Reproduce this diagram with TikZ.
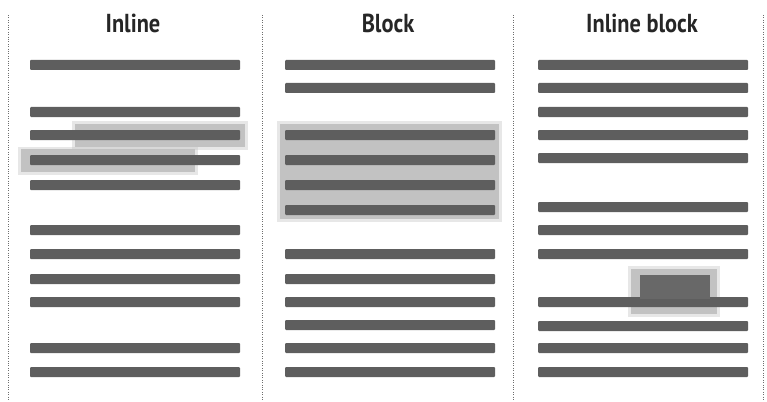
\documentclass[tikz,border=0pt]{standalone}
\usepackage{fontspec}
\setmainfont{PT Sans}
\definecolor{linegray}{HTML}{5E5E5E}
\definecolor{hlgray}{HTML}{C2C2C2}
\definecolor{boxdark}{HTML}{686868}
\definecolor{sepgray}{HTML}{6E6E6E}
\begin{document}
\begin{tikzpicture}[x=1pt,y=-1pt,
  txtline/.style={fill=linegray, rounded corners=1pt},
  hl/.style={fill=hlgray},
  hlsoft/.style={fill=hlgray, opacity=0.4},
  sep/.style={draw=sepgray, line width=0.9pt, dash pattern=on 0.9pt off 1.5pt},
  title/.style={font=\bfseries\fontsize{26}{30}\selectfont, text=black!85, inner sep=0pt, anchor=base}]
\useasboundingbox (0,0) rectangle (767,401);
% separators
\draw[sep] (8,15) -- (8,401);
\draw[sep] (262,15) -- (262,401);
\draw[sep] (513,15) -- (513,401);
\draw[sep] (763,15) -- (763,401);
% titles
\node[title] (tinline) at (133,33) {\scalebox{0.86}[1]{Inline}};
\node[title] (tblock) at (388,33) {\scalebox{0.86}[1]{Block}};
\node[title] (tinlineblock) at (642,33) {\scalebox{0.86}[1]{Inline block}};
% inline highlights
\fill[hlsoft] (72,121) rectangle (248,150);
\fill[hl] (75,124) rectangle (245,147);
\fill[hlsoft] (18,147) rectangle (198,175);
\fill[hl] (21,149) rectangle (195,172);
% block highlight
\fill[hlsoft] (277,121) rectangle (502,222);
\fill[hl] (280,124) rectangle (499,219);
% inline-block outer highlight
\fill[hlsoft] (628,266) rectangle (720,317);
\fill[hl] (631,269) rectangle (717,314);
% text lines: inline
\foreach \yy in {65,112,135,160,185,230,254,279,302,348,372}
  \fill[txtline] (30,\yy-5) rectangle (240,\yy+5);
% text lines: block
\foreach \yy in {65,88,135,160,185,210,254,279,302,325,348,372}
  \fill[txtline] (285,\yy-5) rectangle (495,\yy+5);
% text lines: inline block
\foreach \yy in {65,88,112,135,158,207,230,254,302,326,348,372}
  \fill[txtline] (538,\yy-5) rectangle (748,\yy+5);
% inline-block dark box
\fill[boxdark] (640,275) rectangle (710,299);
\end{tikzpicture}
\end{document}
